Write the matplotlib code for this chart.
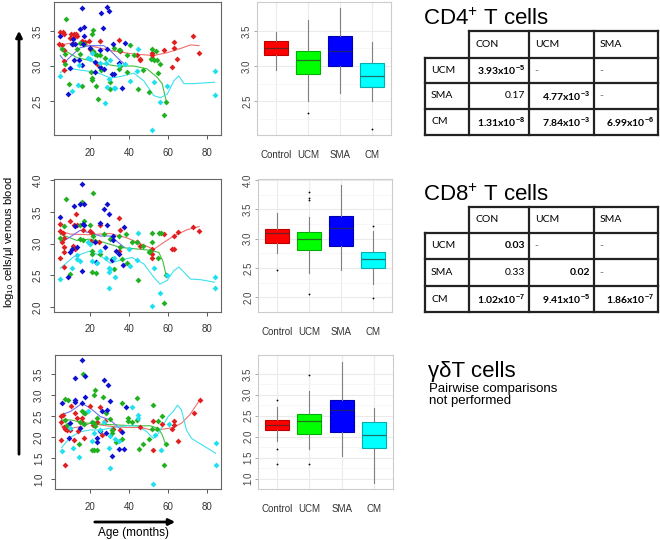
import numpy as np
import matplotlib
matplotlib.use('Agg')
import matplotlib.pyplot as plt

plt.rcParams['font.family'] = ['Liberation Sans', 'DejaVu Sans']
plt.rcParams['mathtext.fontset'] = 'custom'
plt.rcParams['mathtext.rm'] = 'Liberation Sans'
plt.rcParams['mathtext.it'] = 'Liberation Sans:italic'
plt.rcParams['mathtext.bf'] = 'Liberation Sans:bold'

groups = ['Control', 'UCM', 'SMA', 'CM']

# ---- CD4+ T cells: (age in months, log10 cells/ul) ----
cd4_con = [(5.0, 3.48), (6.2, 3.49), (7.0, 3.45), (4.6, 3.31), (5.8, 3.30), (6.7, 3.23), (7.2, 3.07), (6.7, 2.95),
           (10.1, 3.40), (10.4, 3.45), (11.8, 3.32), (12.1, 3.45), (13.0, 3.45), (12.1, 3.41), (13.8, 3.43),
           (16.1, 3.36), (17.8, 3.34), (19.5, 3.36), (20.0, 3.24), (21.2, 3.22), (25.5, 3.36), (23.8, 3.03),
           (34.9, 3.37), (35.4, 3.22), (44.3, 3.15), (45.6, 3.10), (46.0, 3.08), (52.0, 3.18), (52.0, 3.15),
           (52.0, 3.11), (58.0, 3.23), (62.2, 2.98), (63.0, 3.34), (63.0, 3.26), (64.8, 3.10), (73.0, 3.42),
           (76.0, 3.19)]
cd4_ucm = [(8.0, 3.67), (22.0, 3.51), (21.0, 3.45), (15.2, 3.33), (17.3, 3.32), (13.8, 3.24), (5.8, 3.24),
           (7.5, 3.17), (14.9, 3.17), (22.9, 3.17), (23.8, 3.15), (21.9, 3.22), (25.5, 3.15), (28.0, 3.12),
           (32.3, 3.26), (34.9, 3.23), (35.7, 3.23), (40.9, 3.30), (39.0, 3.15), (42.6, 3.15), (52.0, 3.24),
           (53.7, 3.22), (54.5, 3.08), (56.2, 3.03), (51.5, 3.10), (52.9, 3.08), (7.5, 3.03), (9.7, 2.75),
           (16.0, 2.71), (20.9, 2.91), (21.2, 2.83), (21.2, 2.80), (25.1, 2.98), (25.8, 2.94), (30.6, 2.77),
           (30.6, 2.67), (23.2, 2.71), (24.3, 2.53), (39.0, 2.91), (44.6, 2.67), (47.4, 2.94), (50.3, 2.63),
           (55.0, 2.90), (59.1, 2.49), (58.0, 2.31), (35.4, 3.00), (34.9, 2.96)]
cd4_sma = [(15.9, 3.83), (28.9, 3.84), (29.7, 3.78), (25.8, 3.75), (14.9, 3.52), (17.0, 3.56), (26.8, 3.54),
           (5.0, 3.42), (17.0, 3.43), (11.8, 3.38), (10.9, 3.31), (12.6, 3.31), (16.6, 3.32), (20.0, 3.26),
           (25.5, 3.23), (28.9, 3.24), (32.0, 3.32), (38.0, 3.33), (12.1, 3.08), (14.4, 3.08), (16.0, 3.01),
           (22.9, 3.06), (22.9, 2.91), (25.5, 2.98), (27.2, 2.96), (31.5, 2.89), (32.3, 2.89), (34.9, 3.05),
           (36.6, 2.69), (9.2, 2.60), (10.0, 2.97)]
cd4_cm = [(5.0, 2.86), (10.9, 2.64), (14.0, 2.73), (14.4, 3.01), (19.0, 3.11), (21.2, 3.19), (20.0, 3.10),
          (25.5, 3.05), (28.5, 3.05), (29.7, 2.82), (28.9, 2.70), (32.3, 2.69), (33.2, 2.69), (28.0, 2.47),
          (30.6, 3.08), (38.0, 3.03), (40.9, 2.79), (44.0, 2.93), (45.0, 3.24), (52.9, 2.77), (56.0, 2.49),
          (59.7, 2.72), (52.0, 2.09), (84.1, 2.93), (84.1, 2.59), (34.9, 3.01)]
cd4_con_fit = [(5, 3.30), (11.8, 3.33), (20, 3.29), (30.6, 3.22), (42.6, 3.17), (52.8, 3.15), (59.7, 3.19),
               (66.5, 3.25), (71.6, 3.30), (75.9, 3.29)]
cd4_ucm_fit = [(5, 3.26), (13.5, 3.12), (20, 3.08), (27.2, 3.03), (34, 3.00), (42.6, 3.00), (49.4, 2.96),
               (54.5, 2.84), (57.1, 2.75), (59.1, 2.51)]
cd4_sma_fit = [(5, 3.15), (7.5, 3.06), (10.9, 3.15), (15.2, 3.26), (20.3, 3.29), (27.2, 3.29), (30.6, 3.22),
               (34.9, 3.10), (37.8, 3.03)]
cd4_cm_fit = [(5, 2.91), (10.9, 2.96), (18.6, 2.93), (25.5, 2.89), (30.6, 2.83), (35.7, 2.85), (42.6, 2.90),
              (47.7, 2.79), (52.8, 2.58), (56.2, 2.55), (59.7, 2.60), (63.1, 2.79), (65.6, 2.86), (68.2, 2.75),
              (73.3, 2.75), (83.9, 2.77)]
# box stats: whisker low, q1, median, q3, whisker high
cd4_box = [[2.95, 3.15, 3.25, 3.35, 3.48], [2.50, 2.89, 3.08, 3.21, 3.66],
           [2.62, 3.00, 3.22, 3.42, 3.82], [2.51, 2.70, 2.86, 3.04, 3.34]]
cd4_fliers = [[], [2.33], [], [2.11]]

# ---- CD8+ T cells ----
cd8_con = [(5, 3.31), (5, 3.20), (6.2, 3.17), (6.7, 3.09), (5.8, 3.02), (6.7, 2.94), (7, 2.86), (5, 2.77),
           (7, 2.63), (10.1, 3.36), (13.2, 3.46), (12.1, 3.30), (13.5, 3.29), (11.8, 2.96), (12.6, 2.91),
           (16.6, 3.22), (20, 3.20), (21.2, 3.17), (20.5, 3.04), (25.5, 3.30), (24.6, 3.02), (34.9, 3.40),
           (35.7, 3.21), (34.9, 2.89), (44.3, 3.02), (45.6, 2.96), (52, 2.91), (52, 2.83), (52, 2.77),
           (58, 3.15), (62.2, 2.91), (63, 2.91), (63, 3.12), (65, 3.19), (73, 3.26), (76, 3.20)]
cd8_ucm = [(8, 3.71), (16, 3.66), (22, 3.80), (17, 3.36), (5, 3.09), (6.7, 3.28), (15.2, 3.30), (20.3, 3.29),
           (15.2, 3.07), (16.6, 3.05), (22, 3.12), (22.9, 3.04), (21.2, 2.89), (21.2, 2.84), (25.5, 2.83),
           (27.5, 3.15), (30.6, 3.08), (34.9, 3.12), (38.8, 3.15), (41.8, 3.02), (44.3, 3.03), (47.4, 2.96),
           (52, 3.17), (55.4, 3.17), (56.6, 3.17), (52, 3.02), (51.1, 2.89), (50.3, 2.87), (31.5, 2.76),
           (32.3, 2.60), (36.6, 2.76), (39, 2.69), (23.4, 2.54), (21.2, 2.55), (10.1, 2.52), (44.8, 2.43),
           (55, 2.78), (59.1, 2.50), (58, 2.06), (35.7, 2.94)]
cd8_sma = [(16, 3.94), (5, 3.42), (12.1, 3.60), (15.2, 3.63), (17, 3.63), (16.6, 3.31), (17, 3.29), (12.6, 3.28),
           (27.2, 3.54), (28.9, 3.63), (29.9, 3.46), (25.5, 3.33), (28.9, 3.30), (32, 3.12), (32, 3.05),
           (33.7, 2.89), (37.8, 3.26), (22.9, 3.03), (10.9, 2.91), (10.1, 2.86), (13.5, 2.95), (23.4, 2.71),
           (28, 2.94), (16, 2.56), (9.2, 2.47), (31.5, 2.74), (37.1, 2.66), (34.9, 2.83)]
cd8_cm = [(5, 2.44), (10.9, 2.61), (13.8, 2.82), (13.5, 2.76), (19, 3.03), (20, 3.00), (21.2, 2.73),
          (23.8, 2.70), (25.5, 2.89), (28.5, 2.77), (29.7, 2.61), (30.6, 2.60), (33.2, 2.47), (29.7, 2.30),
          (29.7, 2.55), (32.3, 2.77), (40.9, 2.65), (40, 2.91), (44, 2.74), (45, 3.16), (52.8, 2.61), (52, 2.01),
          (56, 2.22), (59.7, 2.50), (84.1, 2.47), (84.1, 2.30), (15.2, 2.73)]
cd8_con_fit = [(5, 3.20), (10.1, 3.15), (20, 3.14), (30.6, 3.16), (39.1, 3.09), (46, 3.00), (52.8, 2.91),
               (58, 3.02), (63, 3.12), (69.9, 3.22), (76, 3.27)]
cd8_ucm_fit = [(5, 3.15), (13.5, 3.05), (20, 3.07), (27.2, 3.02), (35.7, 2.94), (46, 2.91), (52, 2.89),
               (55.4, 2.86), (57.4, 2.73), (59.1, 2.50)]
cd8_sma_fit = [(5, 3.04), (8.4, 3.07), (15.2, 3.21), (20, 3.17), (25.5, 3.12), (30.6, 3.12), (37.8, 2.94)]
cd8_cm_fit = [(5, 2.61), (11.8, 2.79), (20, 2.88), (25.5, 2.81), (30.6, 2.69), (35.7, 2.74), (41.7, 2.78),
              (47.7, 2.68), (52.8, 2.47), (56, 2.36), (59.7, 2.42), (63, 2.57), (65.6, 2.63), (68.2, 2.55),
              (71.6, 2.44), (76.8, 2.43), (83.9, 2.39)]
cd8_box = [[2.75, 2.92, 3.10, 3.17, 3.44], [2.41, 2.80, 3.00, 3.11, 3.37],
           [2.46, 2.87, 3.18, 3.38, 3.91], [2.22, 2.50, 2.65, 2.77, 3.13]]
cd8_fliers = [[2.46], [3.79, 3.70, 3.66, 2.05], [], [3.22, 1.99]]

# ---- gamma delta T cells ----
gd_con = [(5, 2.50), (5.9, 2.53), (5, 2.37), (5, 1.93), (6.4, 2.23), (7.2, 2.19), (8.1, 2.17), (9.4, 2.17),
          (7.2, 1.34), (10.1, 2.74), (11.5, 1.93), (13.5, 2.15), (13.2, 2.45), (12.3, 2.57), (15.7, 2.45),
          (15.7, 2.37), (16.6, 1.97), (20, 2.74), (21.4, 2.29), (23.4, 2.37), (25.1, 2.72), (25.9, 2.05),
          (27.7, 2.38), (31.9, 2.19), (35.3, 2.17), (45.6, 2.25), (52.4, 2.39), (52.4, 1.70), (57, 2.31),
          (62.2, 2.19), (63, 2.39), (63, 2.29), (65.3, 1.91), (73.2, 2.57), (76.2, 2.88)]
gd_ucm = [(16.3, 3.50), (22.6, 3.12), (22.1, 3.00), (7.2, 2.90), (8.6, 2.88), (15.7, 2.61), (17.4, 2.57),
          (16.6, 2.58), (26.5, 2.96), (28.2, 2.58), (30.2, 2.42), (21.9, 2.34), (22.6, 2.27), (21.1, 2.37),
          (7.2, 2.41), (8.1, 2.29), (14.9, 2.37), (16.6, 2.31), (20.9, 1.70), (22.1, 1.70), (23.4, 1.70),
          (14, 1.83), (36.2, 2.82), (39.6, 2.46), (39.6, 2.39), (41.3, 2.37), (44.2, 2.94), (44.2, 2.41),
          (45.2, 1.71), (47.3, 1.83), (50.3, 1.95), (52.4, 2.76), (51.5, 2.19), (54.1, 2.19), (55, 2.39),
          (56.6, 2.50), (58.8, 1.83), (57.9, 1.34), (31.1, 2.09), (33.3, 1.89), (36.2, 1.95), (23.4, 2.45),
          (31.1, 2.17)]
gd_sma = [(15.7, 3.82), (12.3, 3.40), (17.4, 3.44), (5.2, 2.82), (12.3, 2.88), (12.3, 2.84), (15.7, 2.82),
          (17.4, 2.95), (27.2, 3.36), (28.9, 3.24), (30.2, 2.86), (28.4, 2.65), (25.9, 2.63), (9.8, 2.34),
          (9.1, 1.99), (23.4, 1.99), (23.4, 1.89), (28.2, 2.11), (31.1, 1.55), (34.5, 1.71), (37.4, 1.71),
          (14.9, 2.21), (36.2, 2.12), (25.1, 2.15), (38.4, 2.72)]
gd_cm = [(5.2, 1.66), (11.1, 1.74), (14, 1.54), (9.8, 2.21), (18.6, 2.62), (21.7, 2.09), (20.9, 1.92),
         (25.1, 2.17), (26.8, 2.37), (29.4, 1.75), (30.2, 1.28), (30.2, 2.03), (32.8, 1.95), (34.5, 1.92),
         (41.3, 2.71), (44.4, 2.53), (44.4, 2.45), (52.4, 0.89), (53.2, 2.05), (56.3, 1.70), (60.5, 2.31),
         (84.4, 1.87), (84.4, 1.34)]
gd_con_fit = [(5, 2.27), (9.8, 2.21), (14.9, 2.25), (20, 2.33), (25.1, 2.29), (31.9, 2.25), (38.7, 2.23),
              (45.6, 2.23), (51.5, 2.17), (57.5, 2.19), (62.6, 2.23), (66.8, 2.33), (71.1, 2.53), (76.2, 2.88)]
gd_ucm_fit = [(5.2, 2.41), (9.8, 2.41), (16.6, 2.34), (25.1, 2.31), (33.6, 2.29), (42.1, 2.27), (50.7, 2.27),
              (55, 2.21), (57, 2.05), (58.7, 1.83)]
gd_sma_fit = [(5.2, 2.53), (9.8, 2.61), (15.7, 2.80), (20, 2.69), (25.1, 2.49), (30.2, 2.41), (34.5, 2.23),
              (37.4, 2.11)]
gd_cm_fit = [(5.2, 1.75), (9.8, 2.00), (14.9, 2.13), (20, 2.17), (25.1, 2.17), (31.9, 2.23), (38.7, 2.27),
             (43.9, 2.27), (49, 2.13), (52.4, 1.97), (55, 2.09), (57.5, 2.29), (60, 2.49), (62.6, 2.61),
             (64.8, 2.76), (66.8, 2.65), (69.4, 2.17), (72, 1.97), (76.2, 1.85), (84.4, 1.62)]
gd_box = [[1.89, 2.17, 2.27, 2.39, 2.72], [1.70, 2.07, 2.37, 2.54, 3.10],
          [1.55, 2.12, 2.63, 2.87, 3.79], [0.89, 1.74, 2.05, 2.36, 2.69]]
gd_fliers = [[2.87, 1.70, 1.34], [3.48, 1.34], [], []]

# ---- pairwise comparison tables ----
col_names = ['CON', 'UCM', 'SMA']
row_names = ['UCM', 'SMA', 'CM']
cd4_cells = [['3.93x10^-5', '-', '-'], ['0.17', '4.77x10^-3', '-'], ['1.31x10^-8', '7.84x10^-3', '6.99x10^-6']]
cd8_cells = [['0.03', '-', '-'], ['0.33', '0.02', '-'], ['1.02x10^-7', '9.41x10^-5', '1.86x10^-7']]
cell_bold = [[1, 0, 0], [0, 1, 0], [1, 1, 1]]

pt_colors = ['#e02020', '#20b020', '#1010d0', '#20e0f0']
fit_colors = ['#f07070', '#40c040', '#7070f0', '#40e0f0']
box_fill = ['#ff0000', '#00ff00', '#0000ff', '#00ffff']
box_edge = ['#c00000', '#00b000', '#0000b0', '#00b0b0']

W, H = 660, 540
fig = plt.figure(figsize=(6.6, 5.4), dpi=100)


def rect(l, r, t, b):
    return [l / W, 1 - b / H, (r - l) / W, (b - t) / H]


def scatter_panel(ax, pts_list, fit_list, ylim, yticks):
    for pts, fit, c, lc in zip(pts_list, fit_list, pt_colors, fit_colors):
        a = np.array(pts)
        f = np.array(fit)
        ax.plot(f[:, 0], f[:, 1], color=lc, lw=0.8, zorder=2)
        ax.scatter(a[:, 0], a[:, 1], s=9, marker='D', color=c, lw=0, zorder=3)
    ax.set_xlim(1.84, 87.16)
    ax.set_ylim(*ylim)
    ax.set_xticks([20, 40, 60, 80])
    ax.set_yticks(yticks)
    ax.set_yticklabels(['%.1f' % t for t in yticks], rotation=90, va='center')
    ax.tick_params(length=3, width=0.7, color='#555555', labelsize=7, labelcolor='#333333')
    ax.tick_params(axis='x', pad=6)
    ax.tick_params(axis='y', pad=5)
    for s in ax.spines.values():
        s.set_color('#666666')
        s.set_linewidth(0.8)


def box_panel(ax, box, fliers, ylim, yticks):
    stats = [dict(whislo=b[0], q1=b[1], med=b[2], q3=b[3], whishi=b[4], fliers=f, label=g)
             for b, f, g in zip(box, fliers, groups)]
    ax.set_axisbelow(True)
    res = ax.bxp(stats, positions=[1, 2, 3, 4], widths=0.75, patch_artist=True, showcaps=False,
                 whiskerprops=dict(color='#808080', lw=0.8),
                 medianprops=dict(color='#303030', lw=0.9, alpha=0.7),
                 flierprops=dict(marker='o', markersize=1.3, markerfacecolor='black',
                                 markeredgecolor='none'))
    for patch, fc, ec in zip(res['boxes'], box_fill, box_edge):
        patch.set_facecolor(fc)
        patch.set_edgecolor(ec)
        patch.set_linewidth(0.8)
    ax.set_xlim(0.4, 4.6)
    ax.set_ylim(*ylim)
    ax.set_yticks(yticks)
    ax.set_yticklabels(['%.1f' % t for t in yticks], rotation=90, va='center')
    ax.set_yticks([t + 0.25 for t in yticks[:-1]] + [yticks[0] - 0.25], minor=True)
    ax.grid(True, which='major', color='#ebebeb', lw=0.8)
    ax.grid(True, which='minor', axis='y', color='#f4f4f4', lw=0.5)
    ax.tick_params(axis='y', which='major', length=2.5, width=0.6, color='#999999', labelsize=7,
                   labelcolor='#444444', pad=1)
    ax.tick_params(axis='y', which='minor', length=0)
    ax.tick_params(axis='x', length=0, labelsize=7, labelcolor='#333333', pad=11)
    for s in ax.spines.values():
        s.set_color('#cccccc')
        s.set_linewidth(0.8)


# overlay for arrows, titles and tables (pixel coordinates)
ov = fig.add_axes([0, 0, 1, 1])
ov.set_xlim(0, W)
ov.set_ylim(H, 0)
ov.axis('off')

sc1 = fig.add_axes(rect(54, 221, 2, 135))
scatter_panel(sc1, [cd4_con, cd4_ucm, cd4_sma, cd4_cm], [cd4_con_fit, cd4_ucm_fit, cd4_sma_fit, cd4_cm_fit],
              (2.02, 3.91), [2.5, 3.0, 3.5])
bx1 = fig.add_axes(rect(257, 391, 2, 135))
box_panel(bx1, cd4_box, cd4_fliers, (2.02, 3.91), [2.5, 3.0, 3.5])

sc2 = fig.add_axes(rect(54, 221, 179, 312))
scatter_panel(sc2, [cd8_con, cd8_ucm, cd8_sma, cd8_cm], [cd8_con_fit, cd8_ucm_fit, cd8_sma_fit, cd8_cm_fit],
              (1.92, 4.02), [2.0, 2.5, 3.0, 3.5, 4.0])
bx2 = fig.add_axes(rect(258, 392, 179, 312))
box_panel(bx2, cd8_box, cd8_fliers, (1.92, 4.02), [2.0, 2.5, 3.0, 3.5, 4.0])

sc3 = fig.add_axes(rect(55, 221, 355, 489))
scatter_panel(sc3, [gd_con, gd_ucm, gd_sma, gd_cm], [gd_con_fit, gd_ucm_fit, gd_sma_fit, gd_cm_fit],
              (0.77, 3.95), [1.0, 1.5, 2.0, 2.5, 3.0, 3.5])
bx3 = fig.add_axes(rect(258, 393, 355, 489))
box_panel(bx3, gd_box, gd_fliers, (0.77, 3.95), [1.0, 1.5, 2.0, 2.5, 3.0, 3.5])

# axis arrows and labels
ov.annotate('', xy=(19, 28), xytext=(19, 457),
            arrowprops=dict(arrowstyle='-|>', lw=2, color='black', mutation_scale=9))
ov.text(9, 242, r'log$_{10}$ cells/μl venous blood', rotation=90, ha='center', va='center', fontsize=8)
ov.annotate('', xy=(178, 522), xytext=(92, 522),
            arrowprops=dict(arrowstyle='-|>', lw=2, color='black', mutation_scale=9))
ov.text(133, 533, 'Age (months)', ha='center', va='center', fontsize=8.5)


def fmt(s):
    if '^' in s:
        base, e = s.split('^')
        return base + r'$^{\mathbf{' + e + '}}$'
    return s


def draw_table(top_title, title, rows_y, cells):
    cx = [425, 469, 529, 594, 658]
    lc = '#222222'
    ov.text(423, top_title, title, fontsize=16, va='baseline', ha='left')
    ov.plot([cx[1], cx[4]], [rows_y[0], rows_y[0]], color=lc, lw=1.6)
    for y in rows_y[1:]:
        ov.plot([cx[0], cx[4]], [y, y], color=lc, lw=1.6)
    ov.plot([cx[0], cx[0]], [rows_y[1], rows_y[4]], color=lc, lw=1.6)
    for x in cx[1:]:
        ov.plot([x, x], [rows_y[0], rows_y[4]], color=lc, lw=1.6)
    ym = [(rows_y[i] + rows_y[i + 1]) / 2 for i in range(4)]
    for j, name in enumerate(col_names):
        ov.text(cx[j + 1] + 6, ym[0], name, fontsize=7.5, family='Lato', va='center', ha='left')
    for i, name in enumerate(row_names):
        ov.text(cx[0] + 6, ym[i + 1], name, fontsize=7.5, family='Lato', va='center', ha='left')
        for j in range(3):
            s = cells[i][j]
            if s == '-':
                ov.text(cx[j + 1] + 5, ym[i + 1], '-', fontsize=7.5, family='Lato', color='#666666',
                        va='center', ha='left')
            else:
                ov.text(cx[j + 2] - 4, ym[i + 1], fmt(s), fontsize=7.5, family='Lato',
                        fontweight='bold' if cell_bold[i][j] else 'normal', va='center', ha='right')


draw_table(25, r'CD4$^{+}$ T cells', [31, 58, 83, 109, 135], cd4_cells)
draw_table(201, r'CD8$^{+}$ T cells', [207, 233, 259, 286, 312], cd8_cells)

ov.text(428, 377, 'γδT cells', fontsize=16, va='baseline', ha='left')
ov.text(429, 383, 'Pairwise comparisons\nnot performed', fontsize=9.5, va='top', ha='left', linespacing=0.95)

fig.savefig('out.png', dpi=100)
